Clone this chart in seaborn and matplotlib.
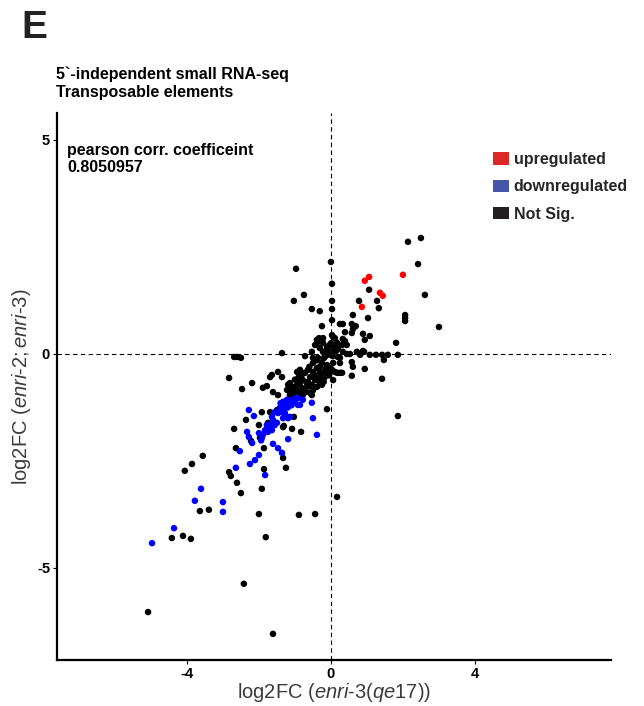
import matplotlib
matplotlib.use("Agg")
import matplotlib.pyplot as plt
from matplotlib.patches import Patch
import seaborn as sns
import pandas as pd

# ---------------- data (log2 fold changes) ----------------
up_x = [0.94, 1.06, 1.36, 1.44, 0.86, 2.00]
up_y = [1.71, 1.80, 1.43, 1.36, 1.10, 1.85]

down_x = [-1.33, -1.22, -1.14, -1.06, -0.92, -0.86, -0.53, -1.42, -1.36, -1.28,
          -1.22, -1.33, -1.19, -1.61, -1.50, -1.64, -1.56, -1.64, -0.50, -0.39,
          -1.19, -1.61, -1.47, -1.36, -0.92, -1.28, -1.14, -1.47, -1.56, -1.64,
          -1.78, -1.69, -1.83, -1.75, -1.89, -1.92, -2.00, -2.28, -2.14, -2.33,
          -2.28, -2.19, -2.53, -2.00, -2.11, -2.25, -2.64, -1.83, -3.61, -3.78,
          -3.00, -3.00, -4.36, -4.97, -1.00, -0.78, -1.94,
          -1.25, -1.10, -1.20, -1.00, -1.40, -1.30]
down_y = [-1.12, -1.07, -1.14, -1.07, -1.03, -1.19, -1.14, -1.26, -1.36, -1.38,
          -1.47, -1.50, -1.50, -1.54, -1.61, -1.61, -1.66, -1.78, -1.50, -1.89,
          -1.99, -2.10, -2.20, -2.31, -1.19, -1.26, -1.47, -1.38, -1.36, -1.47,
          -1.66, -1.73, -1.78, -1.82, -1.89, -1.96, -1.85, -1.31, -1.45, -1.82,
          -1.94, -2.08, -2.27, -2.36, -2.48, -2.57, -2.66, -2.83, -3.15, -3.43,
          -3.46, -3.69, -4.07, -4.42, -1.14, -1.07, -2.02,
          -1.10, -1.20, -1.25, -1.05, -1.15, -1.20]

ns_x = [0.00, -0.97, 0.03, -1.03, -0.75, 0.03, 0.03, -0.53, -0.31, 0.03,
        -0.25, 1.06, 0.78, 1.28, 1.33, 1.03, 0.61, 0.58, 0.69, 2.14,
        2.50, 2.42, 2.61, 2.06, 2.06, 2.06, 3.00, 1.81, 1.08, 1.25,
        1.42, 1.58, 1.86, 0.92, 0.81, 0.72, 1.47, 0.94, 1.42, 0.61,
        0.58, -1.36, -0.72, 0.33, 0.25, 0.61, 0.58, 0.89, 1.08, 0.94,
        0.33, 0.39, 0.44, 0.19, 0.14, 0.44, 0.53, 0.89, 0.58, 0.25,
        0.25, 0.17, 0.03, -0.33, -0.39, -0.22, -0.11, 0.03, 0.11, 0.17,
        0.06, -0.03, -0.17, -0.36, -0.50, -0.53, -0.25, -0.11, -0.03, 0.06,
        -0.39, -0.50, -0.64, -0.72, -0.25, -0.17, -0.08, -0.78, -0.86, -0.94,
        -1.06, -1.14, -0.64, -0.53, -0.44, -0.39, -0.31, -1.00, -0.86, -0.72,
        -0.58, -1.14, -1.08, -1.47, -1.64, -1.69, -1.36, -2.19, -1.78, -1.89,
        -1.61, -1.47, 0.11, 0.06, 0.39, 0.06, -0.22, -0.39, -0.44, -0.31,
        -0.22, -0.11, 0.31, 0.33, 0.19, 0.25, -0.50, -0.31, -0.11, -0.03,
        -0.86, -0.58, 0.31, -0.94, -0.81, -0.31, -0.22, -1.14, -0.67, -0.25,
        -1.06, -0.78, -0.53, -1.69, -1.50, -1.03, -1.31, -1.08, -0.83, -0.11,
        1.86, -1.33, -1.25, 0.17, -0.89, -0.44, -2.83, -2.47, -1.19, -1.22,
        -1.92, -2.36, -2.00, -2.69, -2.22, -1.97, -1.86, -2.64, -1.86, -3.56,
        -3.86, -4.06, -2.83, -2.78, -2.61, -2.50, -1.92, -3.64, -3.39, -2.00,
        -2.69, -2.61, -2.50, -4.42, -4.11, -3.89, -1.81, -2.42, -5.08, -1.61,
        -1.75, -1.33,
        -0.20, -0.10, -0.05, 0.00, -0.15, -0.30, -0.45, -0.60, -0.70, -0.80,
        -0.95, -0.40, -0.60, 0.05, 0.10, -0.05, -0.20, -0.50, -1.00, -0.90]
ns_y = [2.15, 1.99, 1.64, 1.24, 1.38, 1.24, 1.05, 1.05, 1.00, 0.79,
        0.65, 1.50, 1.24, 1.24, 1.07, 0.84, 0.91, 0.70, 0.65, 2.62,
        2.71, 2.10, 1.38, 0.91, 0.84, 0.77, 0.63, 0.26, -0.02, -0.02,
        -0.02, -0.02, -0.02, 0.05, -0.02, 0.05, -0.14, -0.35, -0.58, -0.30,
        -0.51, 0.02, -0.05, 0.70, 0.70, 0.58, 0.49, 0.47, 0.42, 0.33,
        0.35, 0.30, 0.21, 0.12, 0.07, 0.00, 0.00, 0.07, -0.19, -0.09,
        -0.44, -0.44, -0.37, 0.37, 0.26, 0.26, 0.16, 0.44, 0.37, 0.26,
        0.09, -0.02, -0.07, -0.09, -0.09, 0.05, -0.21, -0.26, -0.33, -0.21,
        -0.33, -0.42, -0.37, -0.44, -0.44, -0.54, -0.42, -0.61, -0.68, -0.72,
        -0.77, -0.77, -0.65, -0.72, -0.61, -0.77, -0.68, -0.89, -0.93, -0.89,
        -0.91, -0.96, -0.84, -0.42, -0.49, -0.54, -0.54, -0.68, -0.75, -0.79,
        -0.89, -0.96, -0.42, -0.61, 0.51, 0.40, 0.37, 0.33, 0.21, 0.14,
        0.05, 0.09, 0.21, 0.05, -0.07, -0.21, -0.21, -0.30, -0.30, -0.42,
        -0.37, -0.54, -0.44, -0.42, -0.49, -0.42, -0.49, -0.68, -0.68, -0.72,
        -1.00, -0.96, -0.96, -1.36, -1.31, -1.47, -1.68, -1.75, -1.82, -1.29,
        -1.45, -2.43, -2.66, -3.34, -3.76, -3.74, -0.56, -0.82, -0.72, -0.84,
        -1.36, -1.54, -1.66, -1.75, -2.03, -1.96, -2.20, -2.20, -2.69, -2.38,
        -2.57, -2.73, -2.76, -2.85, -3.01, -3.25, -3.15, -3.67, -3.64, -3.74,
        -0.07, -0.07, -0.09, -4.30, -4.25, -4.32, -4.28, -5.37, -6.03, -6.54,
        -1.61, -1.71,
        -0.10, 0.00, 0.20, 0.25, -0.35, -0.55, -0.50, -0.75, -0.80, -0.80,
        -0.85, -0.15, -0.30, -0.05, 0.15, -0.50, -0.65, -0.85, -0.60, -0.55]

groups = ["Not Sig.", "downregulated", "upregulated"]
point_colors = {"upregulated": "#FF0000", "downregulated": "#0000FF", "Not Sig.": "#000000"}
legend_labels = ["upregulated", "downregulated", "Not Sig."]
legend_colors = ["#DD2828", "#4555A8", "#231F20"]

x_ticks = [-4, 0, 4]
y_ticks = [5, 0, -5]
corr_value = "0.8050957"

df = pd.concat([
    pd.DataFrame({"x": ns_x, "y": ns_y, "group": "Not Sig."}),
    pd.DataFrame({"x": down_x, "y": down_y, "group": "downregulated"}),
    pd.DataFrame({"x": up_x, "y": up_y, "group": "upregulated"}),
], ignore_index=True)

# ---------------- style ----------------
sns.set_theme(style="white")
plt.rcParams["font.family"] = ["Liberation Sans", "DejaVu Sans"]
plt.rcParams["mathtext.fontset"] = "custom"
plt.rcParams["mathtext.rm"] = "Liberation Sans"
plt.rcParams["mathtext.it"] = "Liberation Sans:italic"

fig = plt.figure(figsize=(6.44, 7.06), dpi=100)
ax = fig.add_axes([57 / 644, 1 - 660 / 706, (611 - 57) / 644, (660 - 113) / 706])

sns.scatterplot(data=df, x="x", y="y", hue="group", palette=point_colors,
                hue_order=groups, s=22, linewidth=0, legend=False, ax=ax, zorder=3)

ax.axhline(0, color="black", lw=0.8, ls=(0, (4, 3)), zorder=1)
ax.axvline(0, color="black", lw=0.8, ls=(0, (4, 3)), zorder=1)

ax.set_xlim(-7.61, 7.78)
ax.set_ylim(-7.15, 5.63)
ax.set_xticks(x_ticks)
ax.set_yticks(y_ticks)
ax.set_xticklabels([str(t) for t in x_ticks], fontweight="bold", fontsize=10.5)
ax.set_yticklabels([str(t) for t in y_ticks], fontweight="bold", fontsize=10.5)
ax.tick_params(axis="both", length=3, width=0.8, color="black", pad=2,
               bottom=True, left=True, labelcolor="black")

for side in ["top", "right"]:
    ax.spines[side].set_visible(False)
for side in ["left", "bottom"]:
    ax.spines[side].set_color("black")
    ax.spines[side].set_linewidth(1.6)

ax.set_xlabel(r"log2FC $\mathit{(enri}$-$\mathit{3(qe17))}$", fontsize=14.5,
              color="#3a3a3a", labelpad=0)
ax.set_ylabel(r"log2FC $\mathit{(enri}$-$\mathit{2;enri}$-$\mathit{3)}$", fontsize=14.5,
              color="#3a3a3a", labelpad=3)

ax.text(0.018, 0.945, "pearson corr. coefficeint\n" + corr_value, transform=ax.transAxes,
        ha="left", va="top", fontsize=11.5, fontweight="bold", color="black", linespacing=1.15)

handles = [Patch(facecolor=c, edgecolor="none", label=l) for c, l in zip(legend_colors, legend_labels)]
fig.legend(handles=handles, loc="upper left", bbox_to_anchor=(493 / 644, 1 - 152 / 706),
           frameon=False, prop={"weight": "bold", "size": 11.5},
           handlelength=1.0, handleheight=0.8, handletextpad=0.3, labelspacing=0.78,
           borderpad=0, borderaxespad=0)

fig.text(56 / 644, 1 - 66 / 706, "5`-independent small RNA-seq\nTransposable elements",
         ha="left", va="top", fontsize=11.5, fontweight="bold", color="black", linespacing=1.32)
fig.text(21 / 644, 1 - 10 / 706, "E", ha="left", va="top", fontsize=28, fontweight="bold",
         color="#222222")

fig.savefig("out.png", dpi=100)
